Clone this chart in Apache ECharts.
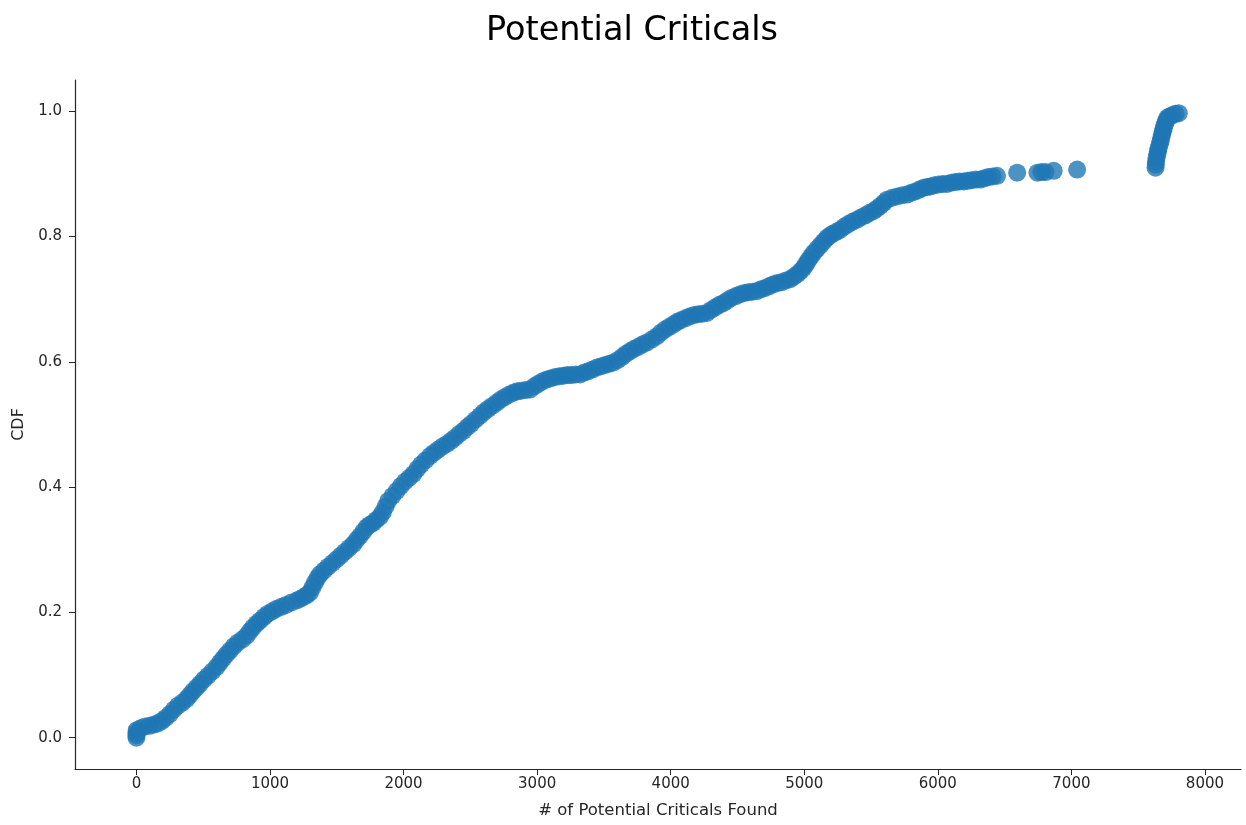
<!DOCTYPE html>
<html>
<head>
<meta charset="utf-8">
<title>Potential Criticals</title>
<script src="https://cdn.jsdelivr.net/npm/echarts@6/dist/echarts.min.js"></script>
<style>
  html, body { margin: 0; padding: 0; background: #fff; }
  #container1 { width: 1246px; height: 825px; }
</style>
</head>
<body>
<div id="container1"></div>
<script>
// x = # of potential criticals found, y = CDF (point by point along the band)
var criticals = [0, 0, 0, 2, 30, 64, 98, 131, 161, 191, 221, 251, 281, 311, 344, 376, 400, 423, 450, 476,
    506, 536, 568, 601, 625, 648, 674, 700, 730, 760, 793, 826, 850, 873, 899, 925, 955, 985, 1018, 1050,
    1085, 1120, 1160, 1200, 1228, 1255, 1278, 1300, 1318, 1337, 1356, 1375, 1405, 1435, 1468, 1500, 1531, 1562, 1593, 1624,
    1649, 1674, 1699, 1724, 1748, 1772, 1798, 1824, 1845, 1865, 1885, 1917, 1949, 1980, 2011, 2043, 2074, 2103, 2131, 2165,
    2199, 2229, 2259, 2292, 2324, 2355, 2386, 2417, 2448, 2477, 2506, 2540, 2573, 2603, 2633, 2666, 2698, 2729, 2760, 2792,
    2823, 2852, 2880, 2914, 2948, 2978, 3008, 3040, 3073, 3104, 3135, 3166, 3197, 3226, 3255, 3289, 3322, 3352, 3382, 3415,
    3447, 3479, 3510, 3541, 3572, 3605, 3637, 3667, 3697, 3727, 3757, 3790, 3822, 3860, 3897, 3928, 3959, 3990, 4021, 4050,
    4079, 4113, 4146, 4176, 4206, 4238, 4271, 4302, 4334, 4365, 4396, 4425, 4454, 4488, 4521, 4551, 4581, 4613, 4646, 4677,
    4708, 4739, 4770, 4799, 4828, 4862, 4895, 4922, 4948, 4972, 4995, 5013, 5030, 5050, 5070, 5095, 5120, 5145, 5170, 5194,
    5218, 5244, 5270, 5300, 5330, 5363, 5395, 5427, 5458, 5489, 5520, 5545, 5570, 5595, 5620, 5658, 5695, 5733, 5770, 5801,
    5832, 5863, 5894, 5919, 5944, 5974, 6004, 6037, 6069, 6100, 6131, 6162, 6193, 6222, 6251, 6285, 6318, 6348, 6378, 6410,
    6443, 6594, 6746, 6776, 6806, 6868, 7043,
    7630, 7632, 7634, 7638, 7643, 7648, 7653, 7660, 7668, 7673, 7679, 7685, 7692, 7698, 7705, 7712, 7720, 7738, 7757, 7780, 7804];
var cdf = [0.000, 0.004, 0.008, 0.012, 0.015, 0.018, 0.019, 0.021, 0.023, 0.027, 0.032, 0.038, 0.045, 0.051, 0.056, 0.062, 0.068, 0.074, 0.080, 0.086,
    0.093, 0.099, 0.106, 0.113, 0.120, 0.126, 0.133, 0.139, 0.146, 0.152, 0.157, 0.163, 0.170, 0.176, 0.182, 0.187, 0.193, 0.198, 0.202, 0.206,
    0.209, 0.212, 0.216, 0.219, 0.222, 0.225, 0.228, 0.232, 0.240, 0.248, 0.255, 0.261, 0.267, 0.273, 0.279, 0.285, 0.291, 0.297, 0.303, 0.309,
    0.316, 0.322, 0.329, 0.336, 0.340, 0.343, 0.348, 0.353, 0.360, 0.369, 0.378, 0.386, 0.394, 0.402, 0.409, 0.415, 0.421, 0.429, 0.436, 0.443,
    0.450, 0.455, 0.460, 0.465, 0.469, 0.474, 0.479, 0.485, 0.490, 0.496, 0.501, 0.508, 0.514, 0.520, 0.525, 0.530, 0.535, 0.540, 0.544, 0.548,
    0.551, 0.553, 0.554, 0.555, 0.556, 0.561, 0.565, 0.569, 0.572, 0.574, 0.576, 0.577, 0.578, 0.579, 0.579, 0.580, 0.580, 0.583, 0.585, 0.588,
    0.591, 0.593, 0.595, 0.597, 0.599, 0.603, 0.608, 0.613, 0.617, 0.621, 0.624, 0.628, 0.631, 0.636, 0.641, 0.647, 0.652, 0.656, 0.660, 0.664,
    0.667, 0.670, 0.673, 0.675, 0.676, 0.677, 0.678, 0.683, 0.687, 0.691, 0.694, 0.698, 0.702, 0.705, 0.708, 0.710, 0.711, 0.712, 0.713, 0.716,
    0.718, 0.721, 0.724, 0.726, 0.727, 0.730, 0.732, 0.736, 0.740, 0.745, 0.750, 0.756, 0.762, 0.768, 0.774, 0.780, 0.786, 0.792, 0.798, 0.802,
    0.805, 0.808, 0.811, 0.816, 0.820, 0.824, 0.827, 0.831, 0.834, 0.838, 0.841, 0.845, 0.849, 0.854, 0.859, 0.862, 0.864, 0.866, 0.867, 0.870,
    0.872, 0.875, 0.878, 0.879, 0.880, 0.882, 0.883, 0.884, 0.884, 0.886, 0.887, 0.888, 0.888, 0.889, 0.890, 0.891, 0.891, 0.893, 0.895, 0.896,
    0.897, 0.902, 0.902, 0.903, 0.903, 0.905, 0.907,
    0.910, 0.915, 0.920, 0.926, 0.931, 0.936, 0.941, 0.947, 0.952, 0.958, 0.963, 0.968, 0.973, 0.978, 0.982, 0.986, 0.990, 0.992, 0.994, 0.996, 0.997];

var xTicks = [0, 1000, 2000, 3000, 4000, 5000, 6000, 7000, 8000];
var yTicks = [0, 0.2, 0.4, 0.6, 0.8, 1.0];

var points = [];
for (var i = 0; i < criticals.length; i++) {
    points.push([criticals[i], cdf[i]]);
}

var font = "DejaVu Sans";
var ink = "#262626";

var chart1 = echarts.init(document.getElementById("container1"));
var option = {
    animation: false,
    textStyle: { fontFamily: font },
    title: {
        text: "Potential Criticals",
        left: 481,
        top: 9,
        textStyle: { fontFamily: font, fontSize: 33.5, fontWeight: "normal", color: "#000" }
    },
    grid: { left: 75, right: 5, top: 80, bottom: 56 },
    xAxis: {
        type: "value",
        min: -460,
        max: 8270,
        name: "# of Potential Criticals Found",
        nameLocation: "middle",
        nameGap: 33,
        nameTextStyle: { fontFamily: font, fontSize: 16.5, color: ink },
        splitLine: { show: false },
        axisLine: { show: true, onZero: false, lineStyle: { color: ink, width: 1.2 } },
        axisTick: { show: true, length: 6, customValues: xTicks, lineStyle: { color: ink } },
        axisLabel: {
            customValues: xTicks, margin: 8, fontSize: 15, color: ink, fontFamily: font,
            formatter: function (v) { return String(v); }
        }
    },
    yAxis: {
        type: "value",
        min: -0.05,
        max: 1.05,
        name: "CDF",
        nameLocation: "middle",
        nameGap: 47,
        nameTextStyle: { fontFamily: font, fontSize: 16, color: ink },
        splitLine: { show: false },
        axisLine: { show: true, onZero: false, lineStyle: { color: ink, width: 1.2 } },
        axisTick: { show: true, length: 6, customValues: yTicks, lineStyle: { color: ink } },
        axisLabel: {
            customValues: yTicks, margin: 13, fontSize: 15, color: ink, fontFamily: font,
            formatter: function (v) { return v.toFixed(1); }
        }
    },
    series: [{
        type: "scatter",
        data: points,
        symbol: "circle",
        symbolSize: 18,
        itemStyle: { color: "#1f77b4", opacity: 0.8 }
    }]
};
chart1.setOption(option);
</script>
</body>
</html>
